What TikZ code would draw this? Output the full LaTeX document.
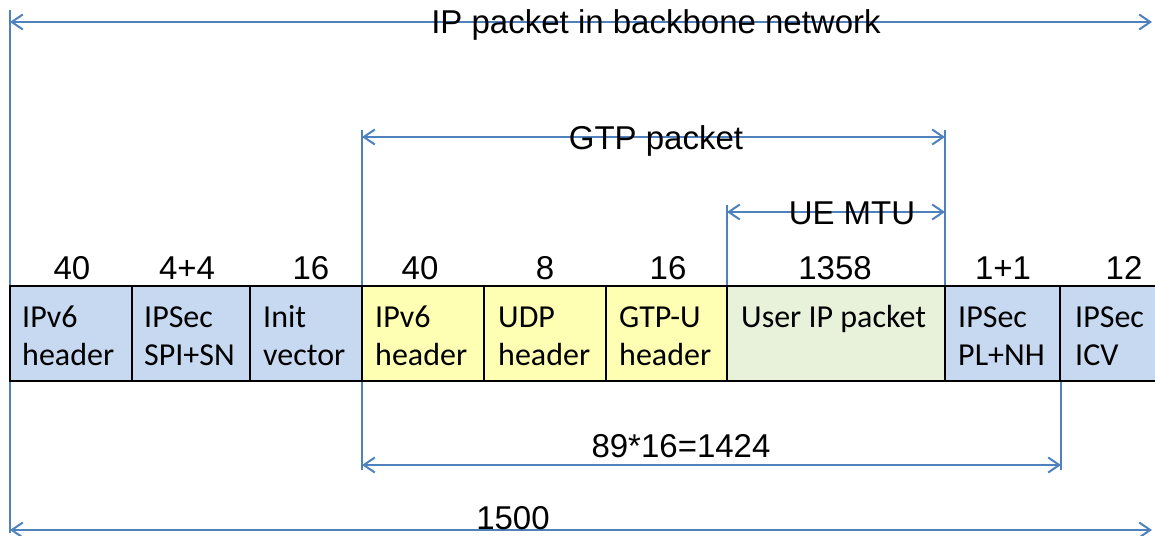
\documentclass[tikz,border=0pt]{standalone}
\usepackage{fontspec}
\setmainfont{Liberation Sans}
\newfontfamily\calfont{Carlito}
\usetikzlibrary{arrows.meta}
\definecolor{lineblue}{HTML}{4F81BD}
\definecolor{cellblue}{HTML}{C6D9F0}
\definecolor{cellyellow}{HTML}{FFFFB4}
\definecolor{cellgreen}{HTML}{E8F1DA}
\tikzset{
  cell/.style={draw=black, line width=1.5pt, minimum height=95pt, anchor=north west, inner sep=0pt, outer sep=0pt},
  bluecell/.style={cell, fill=cellblue},
  yellowcell/.style={cell, fill=cellyellow},
  greencell/.style={cell, fill=cellgreen},
  celltext/.style={anchor=north west, inner sep=0pt, align=left, font=\calfont\fontsize{32}{38}\selectfont},
  num/.style={anchor=base, inner sep=0pt, font=\fontsize{33}{40}\selectfont},
  dimlabel/.style={anchor=base, inner sep=0pt, font=\fontsize{33}{40}\selectfont},
  dimline/.style={draw=lineblue, line width=2pt, {Straight Barb[length=11pt,width=15pt]}-{Straight Barb[length=11pt,width=15pt]}},
  guide/.style={draw=lineblue, line width=1.5pt}
}
\begin{document}
\begin{tikzpicture}[x=1pt,y=-1pt]
\useasboundingbox (0,0) rectangle (1155,535);
% guide coordinates
\coordinate (g1a) at (10,10);
\coordinate (g1b) at (10,533);
\coordinate (g2a) at (362,130);
\coordinate (g2b) at (362,470);
\coordinate (g3a) at (945,130);
\coordinate (g3b) at (945,286);
\coordinate (g4a) at (727,205);
\coordinate (g4b) at (727,286);
\coordinate (g5a) at (1061,381);
\coordinate (g5b) at (1061,470);
\draw[guide] (g1a) -- (g1b);
\draw[guide] (g2a) -- (g2b);
\draw[guide] (g3a) -- (g3b);
\draw[guide] (g4a) -- (g4b);
\draw[guide] (g5a) -- (g5b);
% cells
\node[bluecell, minimum width=122pt] (c1) at (10,286) {};
\node[bluecell, minimum width=118pt] (c2) at (132,286) {};
\node[bluecell, minimum width=112pt] (c3) at (250,286) {};
\node[yellowcell, minimum width=122pt] (c4) at (362,286) {};
\node[yellowcell, minimum width=122pt] (c5) at (484,286) {};
\node[yellowcell, minimum width=121pt] (c6) at (606,286) {};
\node[greencell, minimum width=218pt] (c7) at (727,286) {};
\node[bluecell, minimum width=115pt] (c8) at (945,286) {};
\node[bluecell, minimum width=98pt] (c9) at (1060,286) {};
% cell texts
\node[celltext] (t1) at (22,300.4) {\strut IPv6\\\strut header};
\node[celltext] (t2) at (144,300.4) {\strut IPSec\\\strut SPI+SN};
\node[celltext] (t3) at (263,300.4) {\strut Init\\\strut vector};
\node[celltext] (t4) at (375,300.4) {\strut IPv6\\\strut header};
\node[celltext] (t5) at (498,300.4) {\strut UDP\\\strut header};
\node[celltext] (t6) at (619,300.4) {\strut GTP-U\\\strut header};
\node[celltext] (t7) at (741,300.4) {\strut User IP packet};
\node[celltext] (t8) at (958,300.4) {\strut IPSec\\\strut PL+NH};
\node[celltext] (t9) at (1075,300.4) {\strut IPSec\\\strut ICV};
% sizes
\node[num] (n1) at (72,279) {40};
\node[num] (n2) at (187,279) {4+4};
\node[num] (n3) at (311,279) {16};
\node[num] (n4) at (420,279) {40};
\node[num] (n5) at (545,279) {8};
\node[num] (n6) at (668,279) {16};
\node[num] (n7) at (835,279) {1358};
\node[num] (n8) at (1003,279) {1+1};
\node[num] (n9) at (1124,279) {12};
% dimension arrows
\coordinate (a1l) at (10,22);  \coordinate (a1r) at (1152,22);
\coordinate (a2l) at (362,137); \coordinate (a2r) at (945,137);
\coordinate (a3l) at (727,212); \coordinate (a3r) at (945,212);
\coordinate (a4l) at (362,465); \coordinate (a4r) at (1061,465);
\coordinate (a5l) at (10,530); \coordinate (a5r) at (1152,530);
\draw[dimline] (a1l) -- (a1r);
\draw[dimline] (a2l) -- (a2r);
\draw[dimline] (a3l) -- (a3r);
\draw[dimline] (a4l) -- (a4r);
\draw[dimline] (a5l) -- (a5r);
\node[dimlabel] (l1) at (656,34) {IP packet in backbone network};
\node[dimlabel] (l2) at (656,149) {GTP packet};
\node[dimlabel] (l3) at (852,224) {UE MTU};
\node[dimlabel] (l4) at (681,457) {89*16=1424};
\node[dimlabel] (l5) at (513,529) {1500};
\end{tikzpicture}
\end{document}
